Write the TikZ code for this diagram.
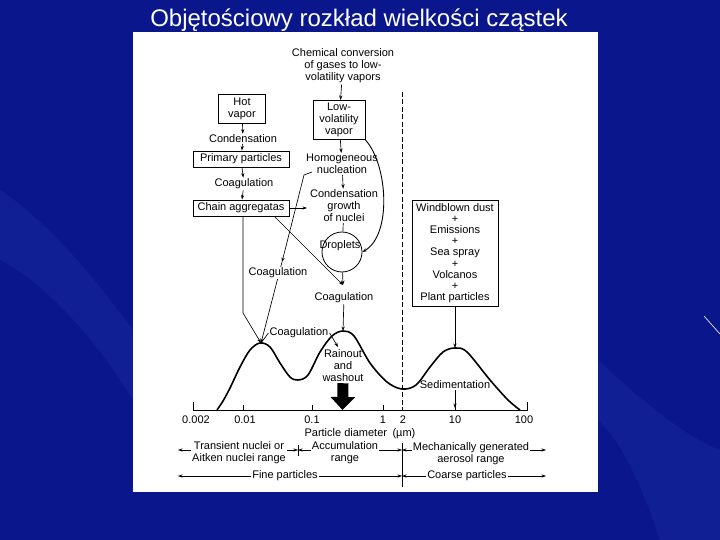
\documentclass[tikz,border=0pt]{standalone}
\usepackage{fontspec}
\setmainfont{Liberation Sans}
\usetikzlibrary{arrows.meta}

\definecolor{slideblue}{RGB}{10,22,140}
\definecolor{slidelight}{RGB}{50,75,195}

\begin{document}
\begin{tikzpicture}[x=1pt,y=-1pt,
  lbl/.style={font=\fontsize{11}{12}\selectfont,align=center,inner sep=1pt},
  box/.style={lbl,draw,line width=0.9pt,inner sep=2pt},
  arr/.style={-{Stealth[length=4.5pt,width=3.2pt]},line width=0.65pt},
  curve/.style={line width=1.6pt,line join=round}]
  \useasboundingbox (0,0) rectangle (720,540);

  % slide background
  \fill[slideblue] (0,0) rectangle (720,540);
  \fill[slidelight,opacity=0.18] (0,190) .. controls (60,230) and (110,300) .. (133,330) -- (133,400) .. controls (90,330) and (40,280) .. (0,260) -- cycle;
  \fill[slidelight,opacity=0.18] (598,360) .. controls (640,400) and (690,440) .. (720,450) -- (720,540) -- (660,540) .. controls (640,480) and (620,440) .. (598,420) -- cycle;
  \draw[white,line width=0.6pt] (704,316) -- (720,334);
  \node[font=\fontsize{24}{28}\selectfont,text=white,anchor=base] (title) at (359,27) {Objętościowy rozkład wielkości cząstek};
  \fill[white] (133,32) rectangle (598,492);

  % right column
  \node[lbl] (chem) at (343,66) {Chemical conversion\\of gases to low-\\volatility vapors};
  \node[box,minimum width=52,minimum height=39] (lowv) at (339,120) {Low-\\volatility\\vapor};
  \node[lbl] (homo) at (342,164) {Homogeneous\\nucleation};
  \node[lbl] (growth) at (344,206) {Condensation\\growth\\of nuclei};
  \node[circle,draw,line width=0.8pt,minimum size=40] (drop) at (342,252) {};
  \node[lbl] (droplbl) at (340,246) {Droplets};
  \node[lbl] (coag2) at (344,298) {Coagulation};

  % left column
  \node[box,minimum width=47,minimum height=29] (hot) at (242,109) {Hot\\vapor};
  \node[lbl] (cond) at (243,139) {Condensation};
  \node[box,minimum width=96,minimum height=16] (prim) at (241,159) {Primary particles};
  \node[lbl] (coag1) at (244,184) {Coagulation};
  \node[box,minimum width=96,minimum height=16] (chain) at (241,208) {Chain aggregatas};

  % sources of coarse particles
  \node[box,font=\fontsize{11}{11.2}\selectfont,minimum width=86,minimum height=106,inner sep=1pt] (src) at (455,253)
    {Windblown dust\\+\\Emissions\\+\\Sea spray\\+\\Volcanos\\+\\Plant particles};

  \coordinate (pk1) at (261,343);
  \coordinate (pk2) at (343,331);
  \coordinate (pk3) at (455,348);
  \coordinate (meet) at (343,285);
  \coordinate (nucstart) at (312,172);
  \coordinate (nuc) at (304,175);
  \coordinate (mid) at (282,262);
  \coordinate (bend) at (243,313);
  \coordinate (chainout) at (275,217);
  \coordinate (chainend) at (307,208);
  \coordinate (sedend) at (455,408);
  \coordinate (rainend) at (338,347);
  \coordinate (bigtip) at (342.5,410);

  % distribution curve and axis
  \draw[curve] plot[smooth,tension=0.55] coordinates {(217,410) (223,401) (230,388) (240,367) (250,350) (260,343) (270,347) (280,363) (290,377) (298,380) (308,375) (320,352) (332,336) (343,331) (354,336) (370,363) (387,382) (402,389) (416,385) (430,367) (443,352) (455,348) (467,352) (490,380) (508,400) (520,410)};
  \draw[line width=0.8pt] (193,402) -- (193,410) -- (527,410) -- (527,402);
  \foreach \x in {243,312,383,455}
    \draw[line width=0.7pt] (\x,410) -- (\x,405);
  \foreach \x/\t in {196/0.002,245/0.01,312/0.1,383/1,403/2,455/10,524/100}
    \node[lbl] (t\x) at (\x,420) {\t};
  \node[lbl] (axlbl) at (360,434) {Particle diameter\enspace(µm)};
  \draw[line width=0.7pt,dash pattern=on 5pt off 2.5pt] (402,92) -- (402,410);
  \draw[line width=0.6pt] (402,443) -- (402,487);
  \draw[line width=0.6pt] (298,445) -- (298,456);

  % flows
  \draw[arr] (chem) -- (lowv);
  \draw[arr] (lowv) -- (homo);
  \draw[arr] (homo) -- (growth);
  \draw[line width=0.65pt] (growth) -- (drop);
  \draw[arr] (drop) -- (meet);
  \draw[arr] (chainout) -- (meet);
  \draw[arr] (coag2) -- (pk2);
  \draw[arr,line width=0.9pt] (lowv.south east) .. controls (388,165) and (392,235) .. (drop.east);
  \draw[arr] (hot) -- (cond);
  \draw[arr] (cond) -- (prim);
  \draw[arr] (prim) -- (coag1);
  \draw[arr] (coag1) -- (chain);
  \draw[arr] (chain.east) -- (chainend);
  \draw[arr] (chain.south -| bend) -- (bend) -- (pk1);
  \draw[arr] (nucstart) -- (nuc) -- (mid);
  \draw[arr] (mid) -- (pk1);
  \node[lbl,fill=white] (coag3) at (278,273) {Coagulation};
  \node[lbl] (coag4) at (299,333) {Coagulation};
  \draw[line width=0.65pt] (coag4.west) -- (pk1);
  \draw[arr] (coag4.east) -- (rainend);
  \node[lbl] (rain) at (343,366) {Rainout\\and\\washout};
  \draw[line width=11pt,-{Triangle[length=13pt,width=24pt]}] (rain.south) -- (bigtip);
  \draw[arr] (src) -- (pk3);
  \node[lbl] (sed) at (455,385) {Sedimentation};
  \draw[arr] (sed) -- (sedend);

  % size ranges
  \node[lbl] (trans) at (239,453) {Transient nuclei or\\Aitken nuclei range};
  \node[lbl] (accum) at (345,453) {Accumulation\\range};
  \node[lbl] (mech) at (471,454) {Mechanically generated\\aerosol range};
  \node[lbl] (fine) at (285,476) {Fine particles};
  \node[lbl] (coarse) at (467,476) {Coarse particles};
  \coordinate (l1) at (178,450);
  \coordinate (m1) at (298,450);
  \coordinate (d1) at (402,450);
  \coordinate (r1) at (546,450);
  \coordinate (l2) at (178,476);
  \coordinate (d2) at (402,476);
  \coordinate (r2) at (546,476);
  \draw[arr] (trans.west |- l1) -- (l1);
  \draw[arr] (trans.east |- m1) -- (m1);
  \draw[arr] (accum.west |- m1) -- (m1);
  \draw[arr] (accum.east |- d1) -- (d1);
  \draw[arr] (mech.west |- d1) -- (d1);
  \draw[arr] (mech.east |- r1) -- (r1);
  \draw[arr] (fine.west) -- (l2);
  \draw[arr] (fine.east) -- (d2);
  \draw[arr] (coarse.west) -- (d2);
  \draw[arr] (coarse.east) -- (r2);
\end{tikzpicture}
\end{document}
